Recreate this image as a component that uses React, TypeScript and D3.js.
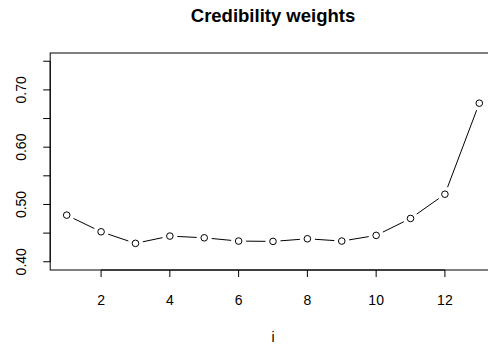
import React from "react";
import * as d3 from "d3";

const iValues = [1, 2, 3, 4, 5, 6, 7, 8, 9, 10, 11, 12, 13];
const weights = [0.4814, 0.4523, 0.4321, 0.4448, 0.4418, 0.4361, 0.4355, 0.4401, 0.4361, 0.446, 0.4756, 0.5179, 0.6768];
const xTicks = [2, 4, 6, 8, 10, 12];
const yTicks = [0.4, 0.45, 0.5, 0.55, 0.6, 0.65, 0.7, 0.75];
const yLabels = [0.4, 0.5, 0.6, 0.7];
const title = "Credibility weights";
const xLabel = "i";

const W = 488;
const H = 347;
const left = 50.2, right = 495.8, top = 53, bottom = 270;

export default function App() {
  const x = d3.scaleLinear().domain([0.52, 13.48]).range([left, right]);
  const y = d3.scaleLinear().domain([0.3856, 0.7644]).range([bottom, top]);
  const pts = iValues.map((v, k) => [x(v), y(weights[k])] as [number, number]);
  const gap = 7.5;
  const segs = pts.slice(1).map((p, k) => {
    const a = pts[k];
    const dx = p[0] - a[0], dy = p[1] - a[1];
    const len = Math.hypot(dx, dy);
    if (len <= 2 * gap) return null;
    const ux = dx / len, uy = dy / len;
    return [a[0] + ux * gap, a[1] + uy * gap, p[0] - ux * gap, p[1] - uy * gap];
  });
  const font = "'Liberation Sans', Arial, Helvetica, sans-serif";
  return (
    <svg width={W} height={H} style={{ position: "absolute", left: 0, top: 0, background: "#fff" }} fontFamily={font}>
      <rect x={0} y={0} width={W} height={H} fill="#fff" />
      <text x={(left + right) / 2} y={22} textAnchor="middle" fontWeight="bold" fontSize={18.5} fill="#000">{title}</text>
      <rect x={left} y={top} width={right - left} height={bottom - top} fill="none" stroke="#000" strokeWidth={1} />
      {/* x axis */}
      <line x1={x(xTicks[0])} x2={x(xTicks[xTicks.length - 1])} y1={bottom} y2={bottom} stroke="#000" />
      {xTicks.map((t) => (
        <g key={"xt" + t}>
          <line x1={x(t)} x2={x(t)} y1={bottom} y2={bottom + 7} stroke="#000" />
          <text x={x(t)} y={305} textAnchor="middle" fontSize={14} fill="#000">{t}</text>
        </g>
      ))}
      {/* y axis */}
      <line x1={left} x2={left} y1={y(yTicks[0])} y2={y(yTicks[yTicks.length - 1])} stroke="#000" />
      {yTicks.map((t) => (
        <line key={"yt" + t} x1={left - 7} x2={left} y1={y(t)} y2={y(t)} stroke="#000" />
      ))}
      {yLabels.map((t) => (
        <text key={"yl" + t} transform={`translate(26,${y(t)}) rotate(-90)`} textAnchor="middle" fontSize={14} fill="#000">{d3.format(".2f")(t)}</text>
      ))}
      <text x={(left + right) / 2} y={342} textAnchor="middle" fontSize={14} fill="#000">{xLabel}</text>
      {segs.map((s, k) => s && (
        <line key={"s" + k} x1={s[0]} y1={s[1]} x2={s[2]} y2={s[3]} stroke="#000" strokeWidth={1} />
      ))}
      {pts.map((p, k) => (
        <circle key={"p" + k} cx={p[0]} cy={p[1]} r={3.3} fill="none" stroke="#000" strokeWidth={1} />
      ))}
    </svg>
  );
}
